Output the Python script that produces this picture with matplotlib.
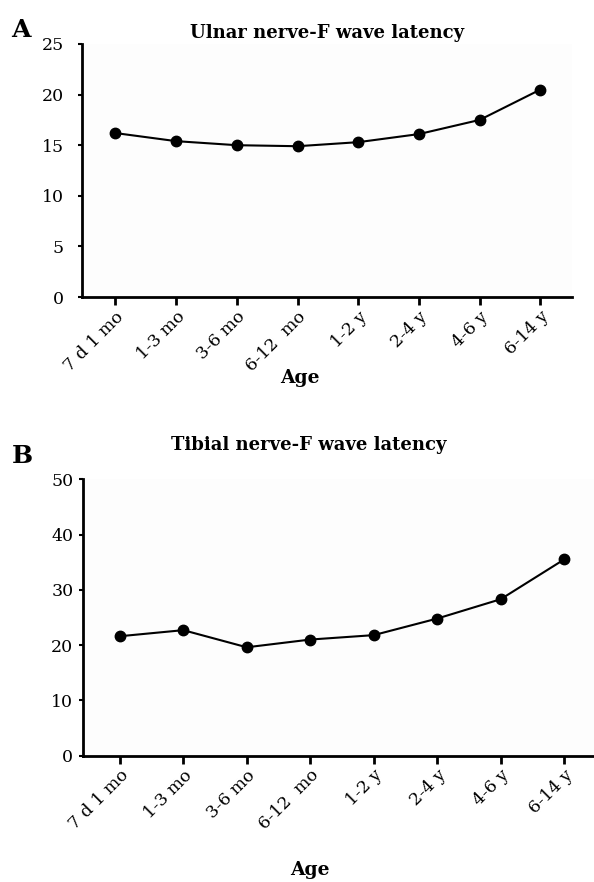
import matplotlib

matplotlib.use("Agg")
import matplotlib.pyplot as plt

plt.rcParams["font.family"] = ["DejaVu Serif"]

age_groups = ["7 d 1 mo", "1-3 mo", "3-6 mo", "6-12  mo", "1-2 y", "2-4 y", "4-6 y", "6-14 y"]
ulnar_latency = [16.2, 15.4, 15.0, 14.9, 15.3, 16.1, 17.5, 20.5]
tibial_latency = [21.6, 22.7, 19.6, 21.0, 21.8, 24.8, 28.3, 35.5]

W, H = 594, 882
fig = plt.figure(figsize=(W / 100, H / 100), dpi=100)


def fx(px):
    return px / W


def fy(py):
    return 1 - py / H


def panel(rect, values, ylim, yticks, xlim, ypad, title, title_xy, letter, letter_xy, age_xy):
    ax = fig.add_axes(rect)
    x = list(range(len(values)))
    ax.plot(x, values, color="black", lw=1.5, marker="o", ms=7.5, mfc="black", mec="black")
    ax.set_xlim(*xlim)
    ax.set_ylim(*ylim)
    ax.set_yticks(yticks)
    ax.set_xticks(x)
    ax.set_xticklabels(age_groups, rotation=45, ha="right", rotation_mode="anchor", fontsize=12.5)
    ax.tick_params(axis="y", labelsize=12.5, length=3, width=1.5, pad=ypad)
    ax.tick_params(axis="x", length=6, width=2, pad=2)
    for s in ("top", "right"):
        ax.spines[s].set_visible(False)
    for s in ("left", "bottom"):
        ax.spines[s].set_linewidth(2)
    ax.set_facecolor("#fdfdfd")
    fig.text(fx(title_xy[0]), fy(title_xy[1]), title, ha="center", va="center",
             fontsize=13, fontweight="bold")
    fig.text(fx(letter_xy[0]), fy(letter_xy[1]), letter, ha="center", va="center",
             fontsize=18, fontweight="bold")
    fig.text(fx(age_xy[0]), fy(age_xy[1]), "Age", ha="center", va="center",
             fontsize=13.5, fontweight="bold")
    return ax


panel([fx(82), fy(297), fx(572 - 82), (297 - 44) / H], ulnar_latency, (0, 25),
      [0, 5, 10, 15, 20, 25], (-0.55, 7.52), 10, "Ulnar nerve-F wave latency", (327, 33),
      "A", (21, 30), (300, 378))
panel([fx(83), fy(755.6), fx(594 - 83), (755.6 - 479.3) / H], tibial_latency, (0, 50),
      [0, 10, 20, 30, 40, 50], (-0.58, 7.47), 4, "Tibial nerve-F wave latency", (309, 445),
      "B", (22, 456), (310, 870))

fig.savefig("out.png", dpi=100)
